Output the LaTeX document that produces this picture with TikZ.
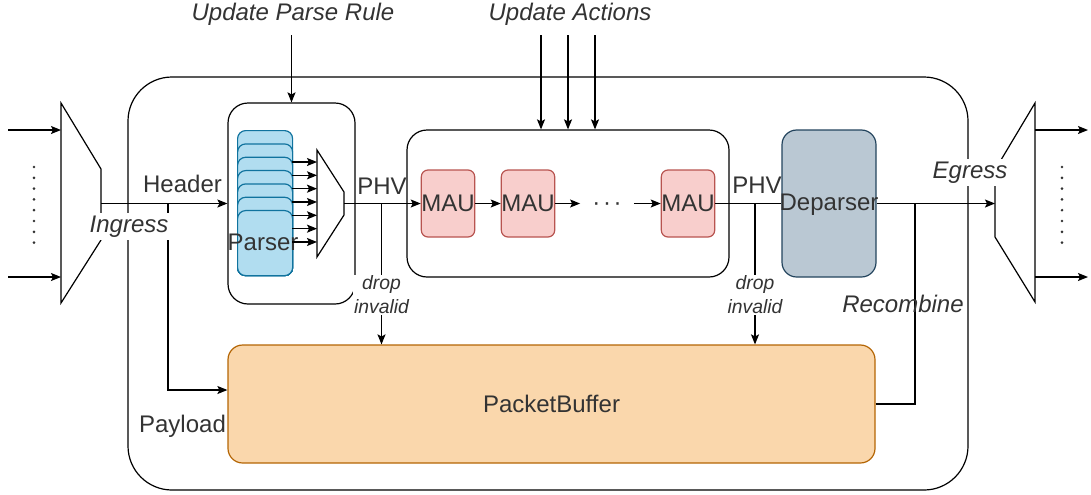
\documentclass[tikz,border=0pt]{standalone}
\usepackage{fontspec}
\setmainfont{Liberation Sans}
\usepackage{tikz}
\usetikzlibrary{arrows.meta}
\definecolor{parserfill}{HTML}{B1DDF0}
\definecolor{parserline}{HTML}{10739E}
\definecolor{maufill}{HTML}{F8CECC}
\definecolor{mauline}{HTML}{B85450}
\definecolor{depfill}{HTML}{BAC8D3}
\definecolor{depline}{HTML}{23445D}
\definecolor{buffill}{HTML}{FAD7AC}
\definecolor{bufline}{HTML}{B46504}
\definecolor{ink}{HTML}{333333}
\tikzstyle{Box}=[rectangle, draw=black, line width=0.9pt, inner sep=0pt]
\tikzstyle{Card}=[rectangle, rounded corners=6pt, draw=parserline, fill=parserfill, line width=0.9pt, inner sep=0pt, minimum width=41.25pt, anchor=north west]
\tikzstyle{Mau}=[rectangle, rounded corners=5pt, draw=mauline, fill=maufill, line width=0.9pt, inner sep=0pt, minimum width=39.75pt, minimum height=50.25pt, font=\fontsize{18}{21}\selectfont, text=ink]
\tikzstyle{Dep}=[rectangle, rounded corners=11pt, draw=depline, fill=depfill, line width=0.9pt, inner sep=0pt, minimum width=70.5pt, minimum height=110.25pt]
\tikzstyle{Buf}=[rectangle, rounded corners=11pt, draw=bufline, fill=buffill, line width=0.9pt, inner sep=0pt, minimum width=485.25pt, minimum height=88.5pt, font=\fontsize{18}{21}\selectfont, text=ink]
\tikzstyle{Lbl}=[font=\fontsize{18}{21}\selectfont, text=ink, inner sep=2pt, anchor=base]
\tikzstyle{Tag}=[Lbl, font=\fontsize{18}{21}\selectfont\itshape]
\tikzstyle{Note}=[font=\fontsize{14.5}{18}\selectfont\itshape, text=ink, align=center, fill=white, inner sep=1pt]
\tikzstyle{Flow}=[-{Stealth[length=7.5pt,width=6pt,inset=1.5pt]}, line width=0.9pt]
\tikzstyle{Wire}=[line width=0.9pt]
\tikzstyle{Dots}=[line width=2.2pt, line cap=round, dash pattern=on 0pt off 8.1pt, draw=ink]

\begin{document}
\begin{tikzpicture}[x=0.75pt, y=-0.75pt]
\useasboundingbox (0,0) rectangle (1091,494);
\path
 (548,283.5) node[Box, rounded corners=33pt, minimum width=630pt, minimum height=309.75pt] (chip) {}
 (291.5,203.5) node[Box, rounded corners=15pt, minimum width=95.25pt, minimum height=150.75pt] (parser) {}
 (568,203.5) node[Box, rounded corners=15pt, minimum width=241.5pt, minimum height=110.25pt] (pipe) {};

\foreach \k in {0,...,6} {
  \pgfmathsetmacro\cardtop{130+13.33*\k}
  \pgfmathsetmacro\cardh{(275-\cardtop)*0.75}
  \node[Card, minimum height=\cardh pt] (card\k) at (237,\cardtop) {};
}
\node[Lbl] (parsename) at (263,250) {Parser};

\draw[Wire] (317,150) -- (344,192) -- (344,215) -- (317,257) -- cycle;
\coordinate (muxin) at (317,203.5);
\coordinate (muxout) at (344,203.5);
\foreach \k in {0,...,6} {
  \coordinate (tap\k) at (292,{162+13.33*\k});
  \draw[Flow] (tap\k) -- (tap\k -| muxin);
}

\path
 (448,203.5) node[Mau] (mau1) {MAU}
 (528,203.5) node[Mau] (mau2) {MAU}
 (688,203.5) node[Mau] (mau3) {MAU}
 (607,210) node[Lbl, inner xsep=9pt] (dots) {·\kern2pt·\kern2pt·}
 (829,203.5) node[Dep] (deparser) {}
 (551.5,404) node[Buf] (buffer) {PacketBuffer};
\node[Lbl] (depname) at (829,210) {Deparser};

\draw[Wire] (61,103) -- (101,169) -- (101,240) -- (61,303) -- cycle;
\coordinate (ingin) at (61,203.5);
\coordinate (ingout) at (101,203.5);
\coordinate (src1) at (8,130);
\coordinate (src2) at (8,277);
\draw[Flow] (src1) -- (src1 -| ingin);
\draw[Flow] (src2) -- (src2 -| ingin);
\draw[Dots] (34,167) -- (34,244);

\draw[Wire] (1035,103) -- (995,170) -- (995,237) -- (1035,302) -- cycle;
\coordinate (egin) at (995,203.5);
\coordinate (egout) at (1035,203.5);
\coordinate (sink1) at (1088,130);
\coordinate (sink2) at (1088,277);
\draw[Flow] (sink1 -| egout) -- (sink1);
\draw[Flow] (sink2 -| egout) -- (sink2);
\draw[Dots] (1062,167) -- (1062,244);

\coordinate (paysplit) at (168,203.5);
\coordinate (recomb) at (915,203.5);
\coordinate (drop1) at (381.5,203.5);
\coordinate (drop2) at (755,203.5);
\draw[Flow] (ingout) -- (parser.west);
\draw[Flow] (paysplit) |- ([yshift=10.5pt]buffer.west);
\draw[Flow] (muxout) -- (mau1.west);
\draw[Flow] (mau1) -- (mau2);
\draw[Flow] (mau2.east) -- (mau2.east -| dots.west);
\draw[Flow] (mau3.west -| dots.east) -- (mau3.west);
\draw[Wire] (mau3) -- (deparser);
\draw[Flow] (deparser) -- (egin);
\draw[Wire] (buffer.east) -| (recomb);
\draw[Flow] (drop1) -- (drop1 |- buffer.north);
\draw[Flow] (drop2) -- (drop2 |- buffer.north);
\node[Note] (why1) at (381.5,295) {drop\\invalid};
\node[Note] (why2) at (755,295) {drop\\invalid};

\node[Tag] (rule) at (293,20) {Update Parse Rule};
\coordinate (rulefeed) at (291.5,35);
\draw[Flow] (rulefeed) -- (parser.north);
\node[Tag] (actions) at (570,20) {Update Actions};
\foreach \x [count=\i] in {541,568,595} {
  \coordinate (act\i) at (\x,35);
  \draw[Flow] (act\i) -- (act\i |- pipe.north);
}

\node[Lbl] (hdr) at (182.5,192) {Header};
\node[Lbl] (phv1) at (382,194) {PHV};
\node[Lbl] (phv2) at (757,193) {PHV};
\node[Lbl] (pay) at (182.5,432) {Payload};
\node[Tag, fill=white] (ingname) at (129,232) {Ingress};
\node[Tag, fill=white] (egname) at (970,178) {Egress};
\node[Tag] (recname) at (903,312) {Recombine};
\end{tikzpicture}
\end{document}
